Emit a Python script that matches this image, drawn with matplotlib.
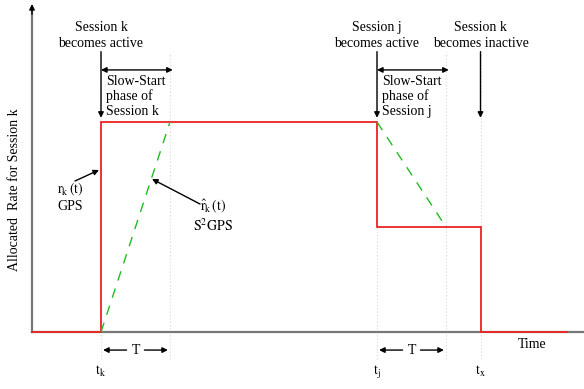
import matplotlib
matplotlib.use("Agg")
import matplotlib.pyplot as plt

plt.rcParams['font.family'] = ['Liberation Serif', 'DejaVu Serif']
plt.rcParams['mathtext.fontset'] = 'stix'

# ---- data (time in units of T, rate normalised to full rate) ----
t_k = 1.0
T = 1.0
t_j = 5.0
t_x = 6.5
t_end = 7.75
gps_time = [0.0, t_k, t_k, t_j, t_j, t_x, t_x, t_end]
gps_rate = [0.0, 0.0, 1.0, 1.0, 0.5, 0.5, 0.0, 0.0]
s2gps_ramp1_time = [t_k, t_k + T]
s2gps_ramp1_rate = [0.0, 1.0]
s2gps_ramp2_time = [t_j, t_j + T]
s2gps_ramp2_rate = [1.0, 0.5]
guide_times = [t_k, t_k + T, t_j, t_j + T, t_x]
tick_times = [t_k, t_j, t_x]
tick_labels = [r"$\mathrm{t_k}$", r"$\mathrm{t_j}$", r"$\mathrm{t_x}$"]

fig = plt.figure(figsize=(5.84, 3.89), dpi=100)
ax = fig.add_axes([0, 0, 1, 1])
ax.set_xlim(-32 / 69, 552 / 69)
ax.set_ylim(-57 / 210, 332 / 210)
ax.axis('off')

FS = 10

# guide dotted lines
for g in guide_times:
    ax.plot([g, g], [-0.13, 1.335], color='#d8d8d8', lw=0.8, ls=(0, (1, 2)), zorder=0)

# axes
ax.plot([0, 8.0], [0, 0], color='#777777', lw=1.6, zorder=1)
ax.annotate('', xy=(8.02, 0), xytext=(7.85, 0),
            arrowprops=dict(arrowstyle='-|>', color='k', lw=1, mutation_scale=8))
ax.plot([0, 0], [0, 1.55], color='#777777', lw=1.6, zorder=1)
ax.annotate('', xy=(0, 1.575), xytext=(0, 1.5),
            arrowprops=dict(arrowstyle='-|>', color='k', lw=1, mutation_scale=8))

# GPS allocation (red)
ax.plot(gps_time, gps_rate, color='#ee2222', lw=1.3, zorder=3, solid_joinstyle='miter')
# S2GPS ramps (green dashed)
ax.plot(s2gps_ramp1_time, s2gps_ramp1_rate, color='#22bb22', lw=1.0, ls=(0, (7, 6)), zorder=4)
ax.plot(s2gps_ramp2_time, s2gps_ramp2_rate, color='#22bb22', lw=1.0, ls=(0, (7, 6)), zorder=4)

arrow = dict(arrowstyle='-|>', color='k', lw=1, mutation_scale=8, shrinkA=0, shrinkB=0)
darrow = dict(arrowstyle='<|-|>', color='k', lw=1, mutation_scale=8, shrinkA=0, shrinkB=0)

# event annotations
events = [(t_k, "Session k\nbecomes active", True, "Slow-Start\nphase of\nSession k"),
          (t_j, "Session j\nbecomes active", True, "Slow-Start\nphase of\nSession j"),
          (t_x, "Session k\nbecomes inactive", False, None)]
for t, label, slow, slow_label in events:
    ax.text(t, (332 - 35.5) / 210, label, ha='center', va='center', fontsize=FS, linespacing=1.25)
    ax.annotate('', xy=(t, 1.02), xytext=(t, 1.335), arrowprops=arrow)
    if slow:
        ax.annotate('', xy=(t + 1.04, 1.248), xytext=(t, 1.248), arrowprops=darrow)
        ax.text(t + 0.07, (332 - 96.5) / 210, slow_label, ha='left', va='center',
                fontsize=FS, linespacing=1.12)

# curve labels
ax.text((70 - 32) / 69, (332 - 197) / 210, r"$\mathrm{r_k\,(t)}$" + "\nGPS",
        ha='center', va='center', fontsize=FS, linespacing=1.15)
ax.annotate('', xy=((99 - 32) / 69, (332 - 170) / 210), xytext=((75 - 32) / 69, (332 - 181) / 210),
            arrowprops=arrow)
ax.text((213 - 32) / 69, (332 - 216) / 210,
        r"$\hat{\mathrm{r}}_\mathrm{k}\,(\mathrm{t})$" + "\n" + r"$\mathrm{S^2GPS}$",
        ha='center', va='center', fontsize=FS, linespacing=1.15)
ax.annotate('', xy=((152 - 32) / 69, (332 - 179) / 210), xytext=((200 - 32) / 69, (332 - 204) / 210),
            arrowprops=arrow)

# T interval markers
for t in [t_k, t_j]:
    yT = -0.086
    ax.text(t + T / 2, yT, "T", ha='center', va='center', fontsize=FS)
    ax.annotate('', xy=(t + 0.03, yT), xytext=(t + 0.37, yT), arrowprops=arrow)
    ax.annotate('', xy=(t + 0.97, yT), xytext=(t + 0.63, yT), arrowprops=arrow)

# tick labels
for t, lab in zip(tick_times, tick_labels):
    ax.text(t, -0.19, lab, ha='center', va='center', fontsize=FS)

ax.text((532 - 32) / 69, -0.058, "Time", ha='center', va='center', fontsize=FS)
ax.text(-17 / 69, (332 - 190) / 210, "Allocated  Rate for Session k", rotation=90,
        ha='center', va='center', fontsize=FS)

fig.savefig("out.png", dpi=100)
